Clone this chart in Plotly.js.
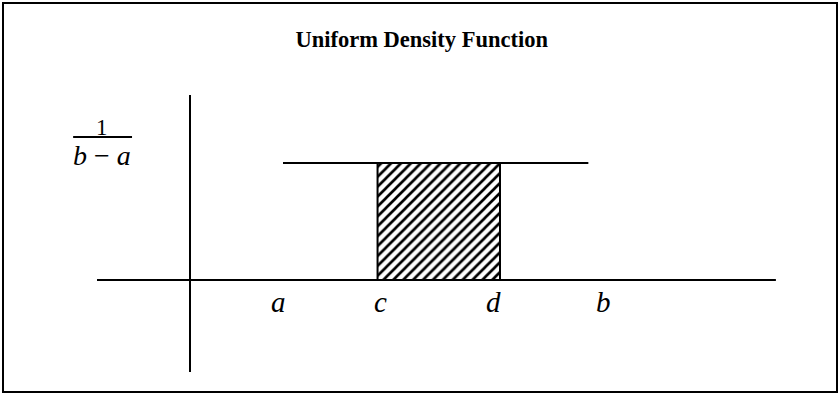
<!DOCTYPE html>
<html>
<head>
<meta charset="utf-8">
<script src="https://cdn.plot.ly/plotly-3.0.1.min.js"></script>
<style>html,body{margin:0;padding:0;background:#fff;}#chart{width:840px;height:395px;}</style>
</head>
<body>
<div id="chart"></div>
<script>
// Key points on the x axis (arbitrary units, origin at vertical axis)
const pointNames = ['a', 'c', 'd', 'b'];
const pointValues = [3.0, 6.05, 10.0, 12.85];
const labelOffsets = [-0.15, 0.1, -0.2, 0.5]; // label positions relative to point
const titleText = 'Uniform Density Function';

const a = pointValues[0], c = pointValues[1], d = pointValues[2], b = pointValues[3];
const h = 1 / (b - a); // density height

// axis extents
const xAxisExtent = [-3.0, 18.9];
const yAxisExtent = [-0.786 * h, 1.581 * h];

const serif = 'Liberation Serif, Times New Roman, serif';

const traces = [
  { // horizontal axis
    x: xAxisExtent, y: [0, 0], mode: 'lines',
    line: {color: '#000', width: 2}, hoverinfo: 'skip'
  },
  { // vertical axis
    x: [0, 0], y: yAxisExtent, mode: 'lines',
    line: {color: '#000', width: 2}, hoverinfo: 'skip'
  },
  { // density line from a to b
    x: [a, b], y: [h, h], mode: 'lines',
    line: {color: '#000', width: 2}, hoverinfo: 'skip'
  },
  { // shaded probability area c..d
    x: [c, c, d, d, c], y: [0, h, h, 0, 0], mode: 'lines',
    fill: 'toself', fillcolor: 'rgba(0,0,0,0)',
    fillpattern: {shape: '/', size: 7, solidity: 0.38, fgcolor: '#000', bgcolor: '#fff'},
    line: {color: '#000', width: 2}, hoverinfo: 'skip'
  }
];

const annotations = pointNames.map((n, i) => ({
  x: pointValues[i] + labelOffsets[i], y: -0.19 * h, xref: 'x', yref: 'y',
  text: '<i>' + n + '</i>', showarrow: false,
  font: {family: serif, size: 29, color: '#000'}
}));
annotations.push({
  x: -2.84, y: 1.30 * h, xref: 'x', yref: 'y', text: '1', showarrow: false,
  font: {family: serif, size: 23, color: '#000'}
});
annotations.push({
  x: -2.84, y: 1.06 * h, xref: 'x', yref: 'y', text: '<i>b</i> − <i>a</i>', showarrow: false,
  font: {family: serif, size: 28, color: '#000'}
});

const pxPerX = 31;
const pxPerH = 117;
const layout = {
  width: 840, height: 395,
  margin: {l: 0, r: 0, t: 0, b: 0},
  paper_bgcolor: '#fff', plot_bgcolor: '#fff',
  showlegend: false,
  title: {text: '<b>' + titleText + '</b>', x: 0.502, xanchor: 'center', y: 0.9, yanchor: 'middle',
          font: {family: serif, size: 22.5, color: '#000'}},
  xaxis: {range: [-190 / pxPerX, 650 / pxPerX], visible: false, fixedrange: true},
  yaxis: {range: [-115 / pxPerH * h, 280 / pxPerH * h], visible: false, fixedrange: true},
  annotations: annotations,
  shapes: [
    {type: 'rect', xref: 'paper', yref: 'paper', x0: 3 / 840, x1: 837 / 840, y0: 3 / 395, y1: 392 / 395,
     line: {color: '#000', width: 2}},
    {type: 'line', xref: 'x', yref: 'y', x0: -3.77, x1: -1.87, y0: 1.222 * h, y1: 1.222 * h,
     line: {color: '#000', width: 2}}
  ]
};

Plotly.newPlot('chart', traces, layout, {staticPlot: true, displayModeBar: false});
</script>
</body>
</html>
